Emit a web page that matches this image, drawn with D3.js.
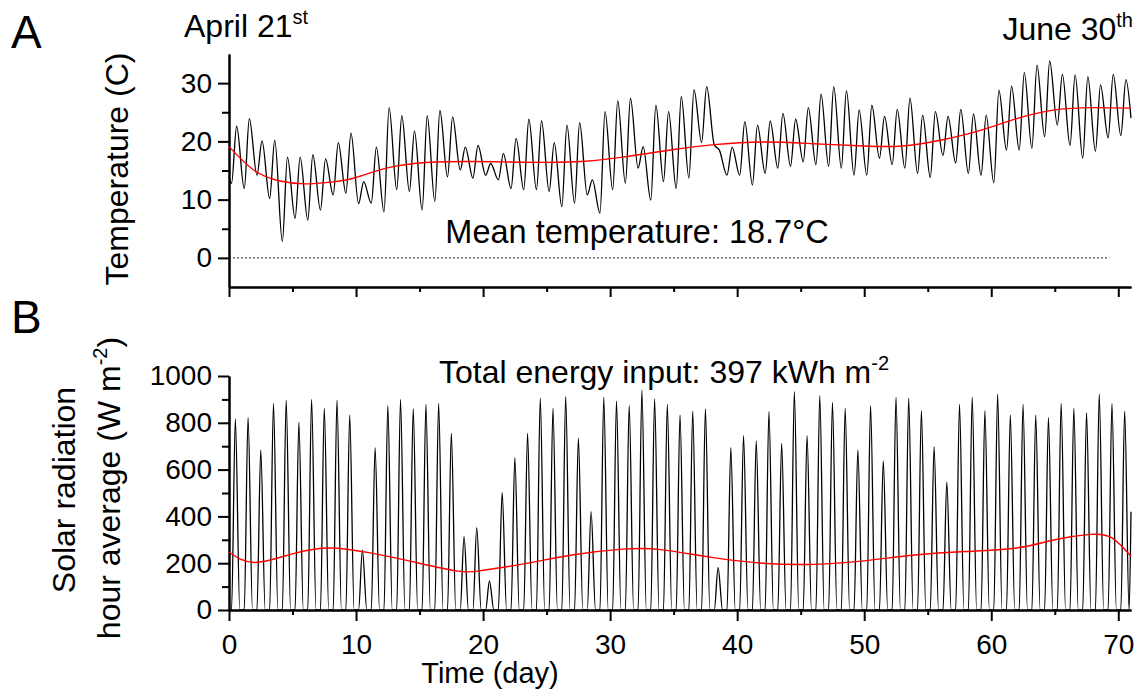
<!DOCTYPE html>
<html><head><meta charset="utf-8">
<script src="https://cdn.jsdelivr.net/npm/d3@7"></script>
<style>body{margin:0;background:#fff}svg{display:block}text{font-family:"Liberation Sans",Arial,sans-serif}</style>
</head><body>
<svg id="c" width="1141" height="691"></svg>
<script>
// ---- Data ----
const days = d3.range(0, 71);
// Panel A: daily temperature minimum (early morning) and maximum (afternoon), °C
const tempMin = [12.8,11.9,14.2,10.2,2.8,6.8,6.5,8.2,10.8,11.1,9.3,9.4,7.9,11.7,11.4,8.2,9.7,13.9,15.1,13.7,
  14.2,13.4,11.9,11.7,11.7,11.4,8.8,9.4,10.8,7.7,11.7,12.8,15.4,9.9,13.1,11.9,13.7,19.8,19.4,14.2,
  14.2,12.5,14.5,15.4,15.7,16.5,16.0,15.7,15.4,14.2,14.2,17.1,16.0,15.4,14.5,13.8,17.6,16.3,14.5,14.2,
  12.9,18.5,18.5,18.8,20.8,22.8,19.3,17.1,18.3,20.6,21.0];
const tempMax = [22.6,23.9,20.1,20.2,17.3,17.3,17.7,17.0,19.8,21.4,13.1,19.0,25.8,24.4,21.8,24.4,25.3,24.2,19.0,19.3,
  16.2,17.9,20.5,23.8,23.5,19.8,22.8,23.2,13.4,25.1,27.0,27.4,19.1,26.2,25.1,27.7,28.9,29.4,18.5,19.0,
  23.4,22.8,23.5,24.8,23.8,25.8,28.1,29.4,28.7,25.4,26.2,24.3,25.5,27.4,24.5,25.1,24.3,25.5,24.7,24.5,
  28.8,29.5,31.8,33.1,33.8,31.5,31.4,31.1,29.7,31.5,30.6];
const tempStart = 14.0, tempEnd = 24.0;
const tMinHour = 0.2, tMaxHour = 0.6;      // fraction of the day
// Smoothed temperature trend (red)
const tempTrendDay = [0,2,4,6,8,10,13,17,21,25,28,31,35,38,42,46,50,53,56,59,62,65,68,71];
const tempTrendVal = [19.1,15.0,13.2,12.7,13.0,13.8,15.7,16.5,16.5,16.4,16.6,17.3,18.6,19.4,19.9,19.6,19.2,19.2,20.2,21.8,23.9,25.4,25.8,25.7];
const meanTemp = 0; // dotted reference line value

// Panel B: daily peak solar radiation, W m-2
const solarPeak = [816,822,684,883,897,802,900,862,897,833,256,694,873,900,860,879,883,755,313,352,
  124,501,651,755,905,862,912,734,420,909,893,873,940,902,879,833,850,859,181,694,
  745,722,848,712,933,745,916,887,862,684,873,637,909,905,852,698,546,879,909,852,
  922,833,879,833,822,883,862,843,922,883,850];
const solarEnd = 420;
const sunrise = 0.2, solarNoon = 0.5, sunset = 0.85;
// Smoothed radiation trend (red)
const solarTrendDay = [0,2,5,8,11,14,18,20,23,27,31,34,38,42,46,50,54,58,62,65,67.8,69.5,71];
const solarTrendVal = [248,203,240,265,245,212,166,170,195,235,260,258,225,200,195,210,235,250,265,300,323,308,230];

const yTicksA = [0,10,20,30], yMinorA = [5,15,25];
const yTicksB = [0,200,400,600,800,1000], yMinorB = [100,300,500,700,900];
const xTicks = [0,10,20,30,40,50,60,70], xMinor = [5,15,25,35,45,55,65];

// ---- Build series ----
const tempSeries = [[0, tempStart]];
days.forEach(d => { tempSeries.push([d + tMinHour, tempMin[d]]); tempSeries.push([d + tMaxHour, tempMax[d]]); });
tempSeries.push([71, tempEnd]);

const solarSeries = [[0, 0]];
days.forEach(d => {
  solarSeries.push([d + sunrise, 0]);
  solarSeries.push([d + solarNoon, solarPeak[d]]);
  if (d + sunset < 71) solarSeries.push([d + sunset, 0]);
});
solarSeries.push([71, solarEnd]);

// ---- Scales ----
const x = d3.scaleLinear([0, 71], [229, 1131]);
const yT = d3.scaleLinear([-5, 35], [287, 54]);
const yS = d3.scaleLinear([0, 1000], [610, 376]);

const svg = d3.select("#c");
const FONT = '"Liberation Sans",Arial,sans-serif';

function styleAxis(g) {
  g.select(".domain").attr("stroke-width", 2);
  g.selectAll(".tick line").attr("stroke-width", 2);
  g.selectAll(".tick text").attr("font-size", 28).attr("font-family", FONT).attr("fill", "#000");
}
const fmt = d3.format("d");

// Panel A axes
svg.append("g").attr("transform", `translate(0,${yT(-5)})`)
  .call(d3.axisBottom(x).tickValues(xMinor).tickSize(5).tickFormat("").tickSizeOuter(0)).call(styleAxis);
svg.append("g").attr("transform", `translate(0,${yT(-5)})`)
  .call(d3.axisBottom(x).tickValues(xTicks).tickSize(10).tickFormat("").tickSizeOuter(0)).call(styleAxis);
svg.append("g").attr("transform", `translate(${x(0)},0)`)
  .call(d3.axisLeft(yT).tickValues(yMinorA).tickSize(7).tickFormat("").tickSizeOuter(0)).call(styleAxis);
svg.append("g").attr("transform", `translate(${x(0)},0)`)
  .call(d3.axisLeft(yT).tickValues(yTicksA).tickSize(11).tickPadding(6).tickFormat(fmt).tickSizeOuter(0)).call(styleAxis);

// Panel B axes
svg.append("g").attr("transform", `translate(0,${yS(0)})`)
  .call(d3.axisBottom(x).tickValues(xMinor).tickSize(5).tickFormat("").tickSizeOuter(0)).call(styleAxis);
svg.append("g").attr("transform", `translate(0,${yS(0)})`)
  .call(d3.axisBottom(x).tickValues(xTicks).tickSize(11).tickPadding(13).tickFormat(fmt).tickSizeOuter(0)).call(styleAxis);
svg.append("g").attr("transform", `translate(${x(0)},0)`)
  .call(d3.axisLeft(yS).tickValues(yMinorB).tickSize(7).tickFormat("").tickSizeOuter(0)).call(styleAxis);
svg.append("g").attr("transform", `translate(${x(0)},0)`)
  .call(d3.axisLeft(yS).tickValues(yTicksB).tickSize(11).tickPadding(6).tickFormat(fmt).tickSizeOuter(0)).call(styleAxis);

// Dotted zero line
svg.append("line").attr("x1", x(0)).attr("x2", x(69.3)).attr("y1", yT(meanTemp)).attr("y2", yT(meanTemp))
  .attr("stroke", "#222").attr("stroke-width", 1).attr("stroke-dasharray", "2,2");

// Lines
const lineT = d3.line().x(d => x(d[0])).y(d => yT(d[1])).curve(d3.curveMonotoneX);
const lineS = d3.line().x(d => x(d[0])).y(d => yS(d[1])).curve(d3.curveMonotoneX);
svg.append("path").datum(tempSeries).attr("d", lineT).attr("fill", "none").attr("stroke", "#000").attr("stroke-width", 1.3);
svg.append("path").datum(solarSeries).attr("d", lineS).attr("fill", "none").attr("stroke", "#000").attr("stroke-width", 1.3);

const trendT = d3.line().x((d, i) => x(tempTrendDay[i])).y(d => yT(d)).curve(d3.curveNatural);
const trendS = d3.line().x((d, i) => x(solarTrendDay[i])).y(d => yS(d)).curve(d3.curveNatural);
svg.append("path").datum(tempTrendVal).attr("d", trendT).attr("fill", "none").attr("stroke", "#ff0000").attr("stroke-width", 1.4);
svg.append("path").datum(solarTrendVal).attr("d", trendS).attr("fill", "none").attr("stroke", "#ff0000").attr("stroke-width", 1.4);

// Texts
function txt(xp, yp, s, size, anchor) {
  return svg.append("text").attr("x", xp).attr("y", yp).attr("font-size", size).attr("text-anchor", anchor || "start").attr("fill", "#000").text(s);
}
txt(11, 48, "A", 46);
txt(11, 333, "B", 46);

const t1 = txt(184, 37, "April 21", 32);
t1.append("tspan").attr("font-size", 20).attr("dy", -13).text("st");
const t2 = svg.append("text").attr("x", 1133).attr("y", 40).attr("font-size", 32).attr("text-anchor", "end").attr("fill", "#000");
t2.append("tspan").text("June 30");
t2.append("tspan").attr("font-size", 20).attr("dy", -13).text("th");

txt(637, 243, "Mean temperature: 18.7°C", 32.5, "middle");
const t3 = txt(439, 383, "Total energy input: 397 kWh m", 32);
t3.append("tspan").attr("font-size", 20).attr("dy", -13).text("-2");

txt(490, 683, "Time (day)", 29, "middle");

svg.append("text").attr("transform", "translate(128,169) rotate(-90)").attr("text-anchor", "middle")
  .attr("font-size", 32).attr("fill", "#000").text("Temperature (C)");
svg.append("text").attr("transform", "translate(75,490) rotate(-90)").attr("text-anchor", "middle")
  .attr("font-size", 32).attr("fill", "#000").text("Solar radiation");
const t4 = svg.append("text").attr("transform", "translate(120,488) rotate(-90)").attr("text-anchor", "middle")
  .attr("font-size", 32).attr("fill", "#000");
t4.append("tspan").text("hour average (W m");
t4.append("tspan").attr("font-size", 20).attr("dy", -13).text("-2");
t4.append("tspan").attr("dy", 13).text(")");
</script>
</body></html>
